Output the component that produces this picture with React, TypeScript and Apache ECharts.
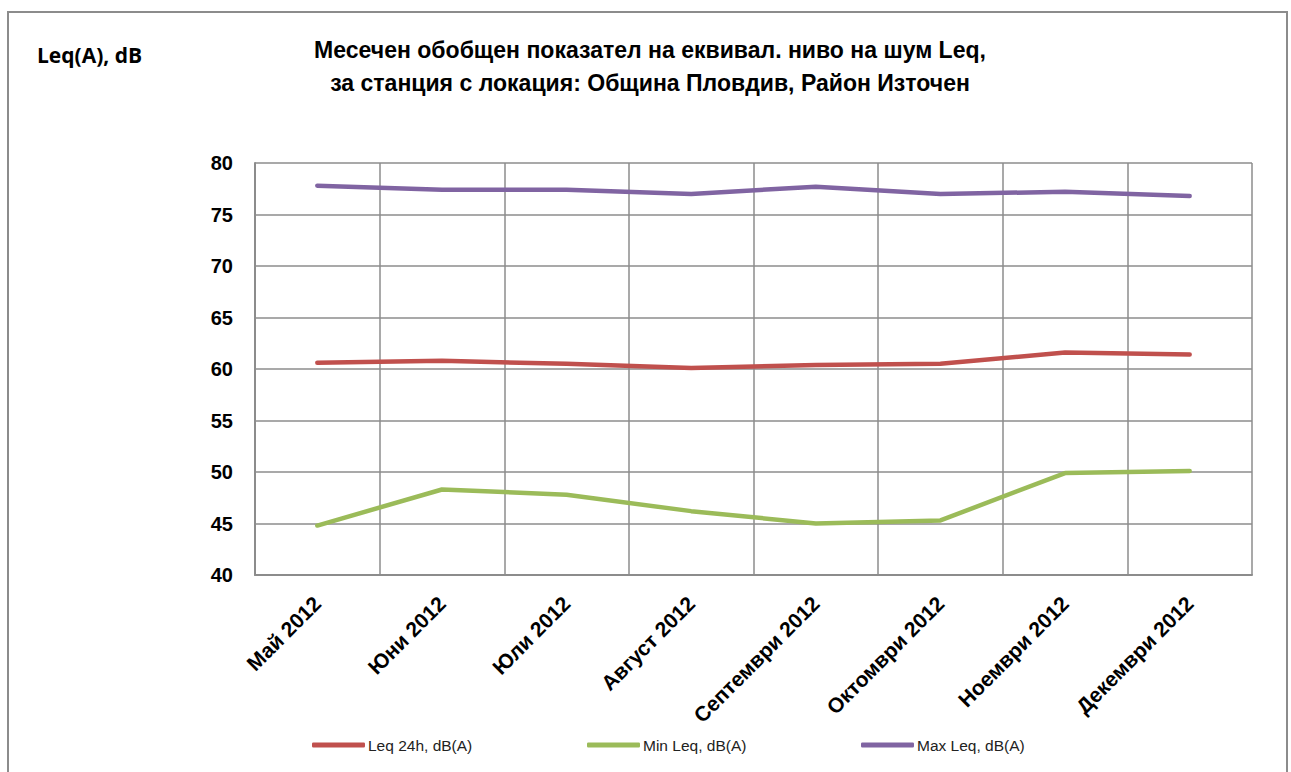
import React, { useEffect, useRef } from "react";
import * as echarts from "echarts";

const categories = [
  "Май 2012",
  "Юни 2012",
  "Юли 2012",
  "Август 2012",
  "Септември 2012",
  "Октомври 2012",
  "Ноември 2012",
  "Декември 2012",
];
const leq24h = [60.6, 60.8, 60.5, 60.1, 60.4, 60.5, 61.6, 61.4];
const minLeq = [44.8, 48.3, 47.8, 46.2, 45.0, 45.3, 49.9, 50.1];
const maxLeq = [77.8, 77.4, 77.4, 77.0, 77.7, 77.0, 77.2, 76.8];

const seriesNames = ["Leq 24h, dB(A)", "Min Leq, dB(A)", "Max Leq, dB(A)"];
const colors = ["#C0504D", "#9BBB59", "#8064A2"];
const titleText =
  "Месечен обобщен показател на еквивал. ниво на шум Leq,\nза станция с локация: Община Пловдив, Район Източен";
const yName = "Leq(A), dB";
const legendLefts = [312, 587, 861];

const ARIAL = "'Liberation Sans', Arial, sans-serif";

export default function App() {
  const ref = useRef<HTMLDivElement>(null);
  useEffect(() => {
    if (!ref.current) return;
    const chart = echarts.init(ref.current, null, { renderer: "svg" });
    const datasets = [leq24h, minLeq, maxLeq];
    chart.setOption({
      animation: false,
      backgroundColor: "#ffffff",
      graphic: [
        {
          type: "rect",
          shape: { x: 8, y: 12, width: 1279, height: 780 },
          style: { fill: "none", stroke: "#8c8c8c", lineWidth: 2 },
          silent: true,
        },
        {
          type: "text",
          x: 650,
          y: 33,
          scaleX: 0.96,
          silent: true,
          style: {
            text: titleText,
            textAlign: "center",
            textVerticalAlign: "top",
            fontFamily: ARIAL,
            fontWeight: "bold",
            fontSize: 24,
            lineHeight: 33,
            fill: "#000",
          },
        },
        {
          type: "text",
          x: 37,
          y: 55,
          silent: true,
          style: {
            text: yName,
            textVerticalAlign: "middle",
            fontFamily: "'Open Sans', Lato, sans-serif",
            fontWeight: "bold",
            fontSize: 21,
            fill: "#000",
          },
        },
      ],
      legend: seriesNames.map((name, i) => ({
        left: legendLefts[i],
        top: 737,
        padding: 0,
        itemWidth: 53,
        itemHeight: 5,
        itemGap: 0,
        icon: "roundRect",
        data: [name],
        textStyle: {
          fontFamily: ARIAL,
          fontSize: 15.5,
          color: "#222",
          padding: [0, 0, 0, -2],
        },
      })),
      grid: { left: 255, right: 39, top: 163, bottom: 197 },
      xAxis: {
        type: "category",
        data: categories,
        boundaryGap: true,
        axisLine: { show: true, lineStyle: { color: "#8c8c8c", width: 2 } },
        axisTick: { show: false },
        splitLine: { show: true, lineStyle: { color: "#8c8c8c", width: 1.5 } },
        axisLabel: {
          rotate: 45,
          interval: 0,
          margin: 25,
          fontFamily: ARIAL,
          fontWeight: "bold",
          fontSize: 21,
          color: "#000",
        },
      },
      yAxis: {
        type: "value",
        min: 40,
        max: 80,
        interval: 5,
        axisLine: { show: true, lineStyle: { color: "#8c8c8c", width: 2 } },
        axisTick: { show: false },
        splitLine: { show: true, lineStyle: { color: "#8c8c8c", width: 1.5 } },
        axisLabel: {
          margin: 22,
          fontFamily: ARIAL,
          fontWeight: "bold",
          fontSize: 20,
          color: "#000",
        },
      },
      series: datasets.map((d, i) => ({
        name: seriesNames[i],
        type: "line",
        data: d,
        symbol: "none",
        color: colors[i],
        lineStyle: { color: colors[i], width: 4.5, cap: "round" },
      })),
    });
    return () => chart.dispose();
  }, []);
  return (
    <div
      ref={ref}
      style={{ position: "fixed", left: 0, top: 0, width: 1291, height: 772 }}
    />
  );
}
